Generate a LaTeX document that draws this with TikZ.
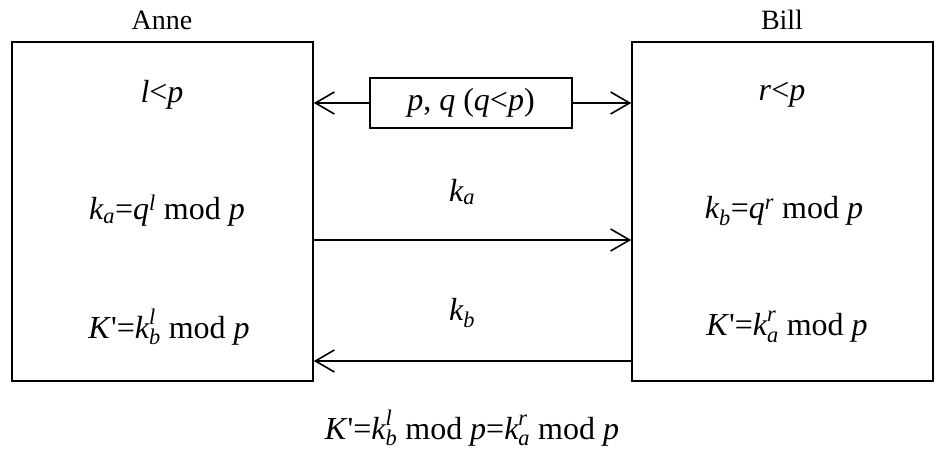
\documentclass[tikz,border=0pt]{standalone}
\usepackage{amsmath}
\usepackage{fontspec}
\setmainfont{Liberation Serif}
\usetikzlibrary{arrows.meta}
\newcommand\vi[1]{\textit{#1}}
\begin{document}
\begin{tikzpicture}[x=1pt, y=1pt, line width=1.6pt,
        >={Straight Barb[length=19pt, width=22pt, line width=1.6pt]},
        every node/.style={font=\fontsize{32}{36}\selectfont},
        partylabel/.style={font=\fontsize{28}{32}\selectfont},
        party/.style={draw, minimum width=301pt, minimum height=339pt, inner sep=0pt},
        shared/.style={draw, minimum width=202pt, minimum height=50pt, inner sep=0pt}]
        \useasboundingbox (0, 0) rectangle (945, 455);
        % the two parties
        \node[party] (anne) at (162.5, 243.5) {};
        \node[party] (bill) at (782.5, 243.5) {};
        \node[partylabel] (anneName) at (162, 435) {Anne};
        \node[partylabel] (billName) at (782, 435) {Bill};
        % public values
        \node[shared] (pq) at (471, 352) {\vi{p}, \vi{q} (\vi{q}<\vi{p})};
        \draw[->] (pq.west) -- (pq.west -| anne.east);
        \draw[->] (pq.east) -- (pq.east -| bill.west);
        % Anne
        \node (aSecret) at (162, 360) {\vi{l}<\vi{p}};
        \node (aKey) at (167, 244) {$\vi{k}_{\vi{a}}$=$\vi{q}^{\vi{l}}$ mod \vi{p}};
        \node (aShared) at (169, 128) {\vi{K}\textquotesingle=$\vi{k}_{\vi{b}}^{\vi{l}}$ mod \vi{p}};
        % Bill
        \node (bSecret) at (782, 360) {\vi{r}<\vi{p}};
        \node (bKey) at (784, 244) {$\vi{k}_{\vi{b}}$=$\vi{q}^{\vi{r}}$ mod \vi{p}};
        \node (bShared) at (787, 128) {\vi{K}\textquotesingle=$\vi{k}_{\vi{a}}^{\vi{r}}$ mod \vi{p}};
        % exchange
        \draw[->] ([yshift=-28.5pt]anne.east) -- ([yshift=-28.5pt]bill.west);
        \draw[->] ([yshift=-149.5pt]bill.west) -- ([yshift=-149.5pt]anne.east);
        \node (kaLabel) at (462, 263) {$\vi{k}_{\vi{a}}$};
        \node (kbLabel) at (462, 142) {$\vi{k}_{\vi{b}}$};
        % result
        \node (result) at (472, 27) {\vi{K}\textquotesingle=$\vi{k}_{\vi{b}}^{\vi{l}}$ mod \vi{p}=$\vi{k}_{\vi{a}}^{\vi{r}}$ mod \vi{p}};
\end{tikzpicture}
\end{document}
